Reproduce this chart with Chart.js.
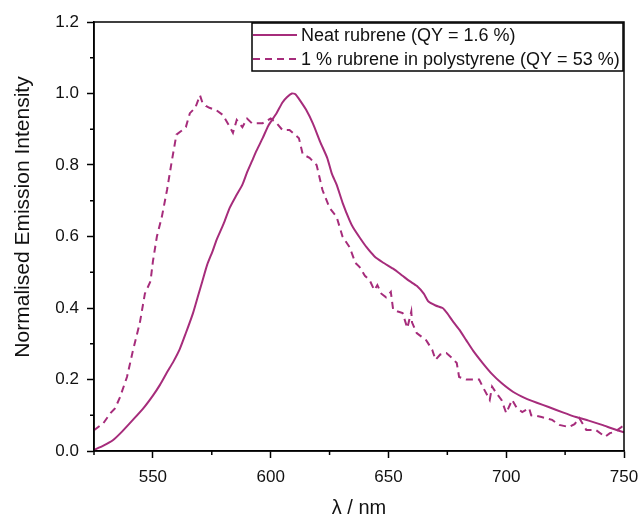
<!DOCTYPE html>
<html>
<head>
<meta charset="utf-8">
<script src="https://cdn.jsdelivr.net/npm/chart.js@4"></script>
<style>
  html, body { margin: 0; padding: 0; background: #fff; }
  #wrap { width: 642px; height: 518px; }
</style>
</head>
<body>
<div id="wrap"><canvas id="emission"></canvas></div>
<script>
// Neat rubrene (solid)
const neatX = [525, 529, 533, 537, 541.5, 546, 550, 553, 556, 558.7, 561.4, 564, 567, 569, 571, 573, 575.4, 577, 580, 582.6,
    585, 588, 590, 592, 594, 596.6, 599, 602.5, 605, 607, 609, 610.5, 612, 615, 618, 621, 624, 626, 628, 630.5,
    633.5, 635, 638, 640.7, 644, 647.5, 652, 656, 659, 662, 665, 667, 670, 673, 675, 677, 680, 683, 686, 690,
    694, 698, 703, 708, 713, 718, 724, 729.6, 735, 740.7, 745, 750];
const neatY = [0.003, 0.015, 0.03, 0.055, 0.087, 0.12, 0.155, 0.185, 0.22, 0.25, 0.285, 0.33, 0.385, 0.43, 0.475, 0.52, 0.56, 0.59, 0.635, 0.68,
    0.71, 0.745, 0.78, 0.81, 0.84, 0.875, 0.91, 0.945, 0.975, 0.99, 1.0, 0.998, 0.985, 0.955, 0.915, 0.865, 0.82, 0.775, 0.745, 0.695,
    0.645, 0.625, 0.595, 0.57, 0.545, 0.528, 0.51, 0.49, 0.475, 0.462, 0.44, 0.418, 0.407, 0.40, 0.385, 0.366, 0.34, 0.31, 0.28, 0.246,
    0.215, 0.19, 0.165, 0.148, 0.135, 0.123, 0.108, 0.095, 0.085, 0.073, 0.063, 0.052];

// 1 % rubrene in polystyrene (dashed)
const psX = [525, 529, 532, 534, 536, 539, 541.5, 544.5, 546.6, 549, 550, 551.7, 553.8, 556, 558, 560, 562, 564, 565.7, 568,
    570, 571, 572.5, 574, 577, 579.7, 582.6, 584, 585.6, 588, 590, 592, 596.6, 600, 602.5, 605, 608, 612, 613.6, 616.5,
    619.5, 621, 622, 625, 628, 630.5, 633.5, 636, 637.7, 640, 642, 644, 645.3, 647, 649, 651, 652, 654, 656, 658,
    659.7, 660, 662, 664, 666, 668.6, 670, 672, 674.6, 677, 679, 680, 683, 686, 688.5, 690, 693, 694, 696, 698,
    700, 702.5, 704.5, 706.8, 709.7, 710.6, 713, 715, 719.5, 722.5, 726.7, 729, 731, 734, 738, 742, 744, 746, 749, 750];
const psY = [0.058, 0.078, 0.106, 0.12, 0.15, 0.207, 0.28, 0.36, 0.44, 0.475, 0.53, 0.6, 0.655, 0.73, 0.81, 0.885, 0.895, 0.906, 0.945, 0.96,
    0.995, 0.975, 0.965, 0.96, 0.953, 0.94, 0.907, 0.89, 0.926, 0.906, 0.93, 0.917, 0.917, 0.93, 0.917, 0.898, 0.898, 0.875, 0.83, 0.82,
    0.8, 0.758, 0.73, 0.68, 0.655, 0.6, 0.57, 0.526, 0.515, 0.49, 0.478, 0.45, 0.464, 0.44, 0.43, 0.445, 0.395, 0.39, 0.386, 0.344,
    0.39, 0.36, 0.33, 0.32, 0.31, 0.283, 0.255, 0.27, 0.274, 0.26, 0.246, 0.207, 0.2, 0.2, 0.2, 0.18, 0.143, 0.18, 0.16, 0.143,
    0.106, 0.143, 0.12, 0.109, 0.12, 0.1, 0.098, 0.095, 0.087, 0.073, 0.067, 0.075, 0.092, 0.059, 0.059, 0.04, 0.05, 0.053, 0.067, 0.055];

const xMajor = [550, 600, 650, 700, 750];
const xMinor = [525, 575, 625, 675, 725];
const yMajor = [0, 0.2, 0.4, 0.6, 0.8, 1.0, 1.2];
const yMinor = [0.1, 0.3, 0.5, 0.7, 0.9, 1.1];

const yTitle = 'Normalised Emission Intensity';
const lineColor = '#a62c7b';
const font = "'Liberation Sans', Arial, sans-serif";

function toPoints(xs, ys) {
    return xs.map((x, i) => ({ x: x, y: ys[i] }));
}

// frame around the plot, minor ticks and the y title (sits a bit above centre in the original)
const framePlugin = {
    id: 'frame',
    afterDraw(chart) {
        const { ctx, chartArea: a, scales } = chart;
        ctx.save();
        ctx.strokeStyle = '#000';
        ctx.lineWidth = 1.5;
        ctx.strokeRect(a.left, a.top, a.right - a.left, a.bottom - a.top);
        ctx.beginPath();
        xMinor.forEach(v => {
            const px = scales.x.getPixelForValue(v);
            ctx.moveTo(px, a.bottom);
            ctx.lineTo(px, a.bottom + 4);
        });
        yMinor.forEach(v => {
            const py = scales.y.getPixelForValue(v);
            ctx.moveTo(a.left, py);
            ctx.lineTo(a.left - 4, py);
        });
        ctx.stroke();

        ctx.translate(23, 217);
        ctx.rotate(-Math.PI / 2);
        ctx.font = '21px ' + font;
        ctx.fillStyle = '#111';
        ctx.textAlign = 'center';
        ctx.textBaseline = 'middle';
        ctx.fillText(yTitle, 0, 0);
        ctx.restore();
    }
};

// boxed legend in the top-right corner
const legendBoxPlugin = {
    id: 'legendBox',
    afterDraw(chart) {
        const { ctx, chartArea: a } = chart;
        const left = 252, top = a.top + 1, right = a.right - 1, bottom = 71;
        ctx.save();
        ctx.fillStyle = '#fff';
        ctx.fillRect(left, top, right - left, bottom - top);
        ctx.strokeStyle = '#000';
        ctx.lineWidth = 1.5;
        ctx.strokeRect(left, top, right - left, bottom - top);
        ctx.font = '18px ' + font;
        ctx.textBaseline = 'middle';
        chart.data.datasets.forEach((ds, i) => {
            const y = 35 + i * 24;
            ctx.strokeStyle = ds.borderColor;
            ctx.lineWidth = 2;
            ctx.setLineDash(ds.borderDash || []);
            ctx.beginPath();
            ctx.moveTo(left + 1, y);
            ctx.lineTo(left + 45, y);
            ctx.stroke();
            ctx.setLineDash([]);
            ctx.fillStyle = '#111';
            ctx.fillText(ds.label, left + 49, y + 1);
        });
        ctx.restore();
    }
};

new Chart(document.getElementById('emission'), {
    type: 'line',
    data: {
        datasets: [{
            label: 'Neat rubrene (QY = 1.6 %)',
            data: toPoints(neatX, neatY),
            borderColor: lineColor,
            borderWidth: 2,
            pointRadius: 0,
            tension: 0.2
        }, {
            label: '1 % rubrene in polystyrene (QY = 53 %)',
            data: toPoints(psX, psY),
            borderColor: lineColor,
            borderWidth: 2,
            borderDash: [7, 5],
            pointRadius: 0,
            tension: 0
        }]
    },
    options: {
        responsive: true,
        maintainAspectRatio: false,
        animation: false,
        layout: { padding: { left: 0, top: 22, right: 18, bottom: 0 } },
        plugins: {
            legend: { display: false },
            tooltip: { enabled: false }
        },
        scales: {
            x: {
                type: 'linear',
                min: 525,
                max: 750,
                afterBuildTicks: scale => { scale.ticks = xMajor.map(v => ({ value: v })); },
                afterFit: scale => { scale.height = 67; scale.paddingRight = 0; scale.paddingLeft = 0; },
                grid: { drawOnChartArea: false, tickLength: 7, tickWidth: 1.5, tickColor: '#000' },
                border: { display: true, color: '#000', width: 1.5 },
                ticks: { color: '#111', font: { family: font, size: 17 }, padding: 9, maxRotation: 0 },
                title: { display: true, text: 'λ / nm', color: '#111', font: { family: font, size: 20, lineHeight: 1 }, padding: { top: 0, bottom: 0 } }
            },
            y: {
                min: 0,
                max: 1.2,
                afterBuildTicks: scale => { scale.ticks = yMajor.map(v => ({ value: v })); },
                afterFit: scale => { scale.width = 94; },
                grid: { drawOnChartArea: false, tickLength: 7, tickWidth: 1.5, tickColor: '#000' },
                border: { display: true, color: '#000', width: 1.5 },
                ticks: { color: '#111', font: { family: font, size: 17 }, padding: 8, callback: v => v.toFixed(1) }
            }
        }
    },
    plugins: [framePlugin, legendBoxPlugin]
});
</script>
</body>
</html>
